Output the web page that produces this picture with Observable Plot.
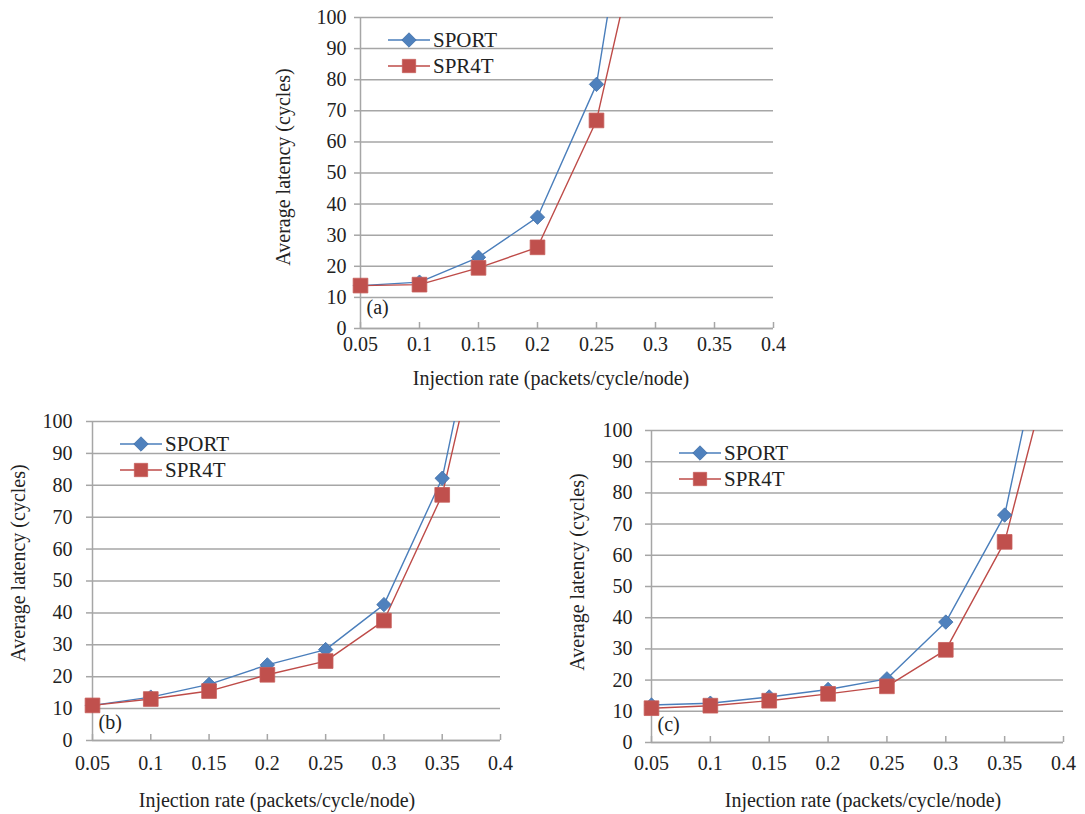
<!DOCTYPE html>
<html><head><meta charset="utf-8">
<script src="https://cdn.jsdelivr.net/npm/d3@7"></script>
<script src="https://cdn.jsdelivr.net/npm/@observablehq/plot@0.6"></script>
<style>
body{margin:0;background:#fff;}
#root{position:relative;width:1085px;height:814px;color:#222;overflow:hidden;}
.p{position:absolute;}
.t{position:absolute;font-size:20px;white-space:nowrap;line-height:1;transform:translate(-50%,-50%);}
.ty{transform:translate(-50%,-50%) rotate(-90deg);}
</style></head><body><div id="root"></div>
<script>
// ---- data ----
const rates = [0.05, 0.1, 0.15, 0.2, 0.25, 0.3, 0.35, 0.4];
const xTicks = [0.05, 0.1, 0.15, 0.2, 0.25, 0.3, 0.35, 0.4];
const yTicks = [0, 10, 20, 30, 40, 50, 60, 70, 80, 90, 100];
const seriesNames = ["SPORT", "SPR4T"];
const panelTags = ["(a)", "(b)", "(c)"];
const xTitle = "Injection rate (packets/cycle/node)";
const yTitle = "Average latency (cycles)";
// last value of each series lies above 100 (line leaves the chart)
const aSPORT = [13.8, 14.9, 22.9, 35.8, 78.5, 196];
const aSPR4T = [13.8, 14.1, 19.5, 26.1, 66.9, 150];
const bSPORT = [11, 13.6, 17.6, 23.7, 28.5, 42.6, 82.2, 169];
const bSPR4T = [11, 13, 15.5, 20.6, 24.9, 37.6, 77, 156];
const cSPORT = [12, 12.6, 14.6, 17, 20.4, 38.6, 72.9, 161];
const cSPR4T = [11, 11.8, 13.4, 15.6, 18, 29.7, 64.3, 137];

const FONT = `"Liberation Serif", Tinos, "Times New Roman", Times`;
const colors = {SPORT: "#4A7EBB", SPR4T: "#BE4B48"};
const fills = {SPORT: "#4F81BD", SPR4T: "#C0504D"};
const grid = "#a6a6a6";

const panels = [
  {tag: panelTags[0], values: [aSPORT, aSPR4T], left: 270, top: 0, width: 520, height: 390,
   ml: 90, mr: 17, mt: 17, mb: 62, ypad: 8, xpad: 8, tagDy: -15,
   xt: [551, 378], yt: [283, 167]},
  {tag: panelTags[1], values: [bSPORT, bSPR4T], left: 0, top: 405, width: 520, height: 409,
   ml: 92, mr: 20, mt: 16, mb: 74, ypad: 14, xpad: 15, tagDy: -12,
   xt: [277, 800], yt: [18, 563]},
  {tag: panelTags[2], values: [cSPORT, cSPR4T], left: 560, top: 415, width: 525, height: 399,
   ml: 91, mr: 22, mt: 15, mb: 72, ypad: 13, xpad: 13, tagDy: -12,
   xt: [863, 800], yt: [577, 572]}
];

const root = document.getElementById("root");
root.style.fontFamily = FONT;

for (const cfg of panels) {
  const data = [];
  seriesNames.forEach((s, si) => cfg.values[si].forEach((v, i) => data.push({series: s, x: rates[i], y: v})));
  const inChart = data.filter(d => d.y <= 100);
  const fh = cfg.height - cfg.mt - cfg.mb;
  const plot = Plot.plot({
    width: cfg.width, height: cfg.height,
    marginLeft: cfg.ml, marginRight: cfg.mr, marginTop: cfg.mt, marginBottom: cfg.mb,
    style: {fontFamily: FONT, fontSize: "20px", color: "#222", background: "transparent", overflow: "visible"},
    x: {domain: [0.05, 0.4]},
    y: {domain: [0, 100]},
    color: {domain: seriesNames, range: seriesNames.map(s => colors[s])},
    marks: [
      Plot.gridY(yTicks, {stroke: grid, strokeOpacity: 1, strokeWidth: 1.5}),
      Plot.axisY(yTicks, {tickSize: 6, tickPadding: cfg.ypad, stroke: grid, strokeWidth: 1.5, label: null, tickFormat: d => String(d)}),
      Plot.ruleX([0.05], {stroke: grid, strokeWidth: 1.5}),
      Plot.ruleY([0], {stroke: grid, strokeWidth: 1.5}),
      Plot.ruleX(xTicks, {x: d => d, insetTop: fh - 6, stroke: grid, strokeWidth: 1.5}),
      Plot.axisX(xTicks, {tickSize: 0, tickPadding: cfg.xpad, label: null, tickFormat: d => String(+d.toFixed(2))}),
      Plot.line(data, {x: "x", y: "y", z: "series", stroke: "series", strokeWidth: 1.4, clip: true}),
      Plot.dot(inChart.filter(d => d.series === "SPORT"), {x: "x", y: "y", symbol: "diamond2", r: 6.5, fill: fills.SPORT, stroke: "#3F6FA8", strokeWidth: 0.8}),
      Plot.dot(inChart.filter(d => d.series === "SPR4T"), {x: "x", y: "y", symbol: "square", r: 8.3, fill: fills.SPR4T, stroke: "#C75E5B", strokeWidth: 0.8}),
      Plot.text([cfg.tag], {text: d => d, frameAnchor: "bottom-left", dx: 6, dy: cfg.tagDy, textAnchor: "start", fontSize: 20, fill: "#222"})
    ]
  });
  plot.classList.add("p");
  plot.style.left = cfg.left + "px";
  plot.style.top = cfg.top + "px";
  plot.style.fontFamily = FONT;
  root.appendChild(plot);

  // legend (inside plot, top-left)
  const lx = cfg.left + cfg.ml + 28, ly = cfg.top + cfg.mt + 23;
  const ns = "http://www.w3.org/2000/svg";
  const leg = document.createElementNS(ns, "svg");
  leg.setAttribute("width", 130); leg.setAttribute("height", 60);
  leg.setAttribute("class", "p");
  leg.style.left = lx + "px"; leg.style.top = (ly - 12) + "px";
  leg.style.fontFamily = FONT;
  seriesNames.forEach((s, i) => {
    const y = 12 + i * 26;
    const ln = document.createElementNS(ns, "line");
    ln.setAttribute("x1", 0); ln.setAttribute("x2", 42); ln.setAttribute("y1", y); ln.setAttribute("y2", y);
    ln.setAttribute("stroke", colors[s]); ln.setAttribute("stroke-width", 1.4);
    leg.appendChild(ln);
    const mk = document.createElementNS(ns, "path");
    const sym = s === "SPORT" ? d3.symbol(d3.symbolDiamond2, Math.PI * 6.5 * 6.5) : d3.symbol(d3.symbolSquare, Math.PI * 7.5 * 7.5);
    mk.setAttribute("d", sym());
    mk.setAttribute("transform", `translate(21,${y})`);
    mk.setAttribute("fill", fills[s]);
    mk.setAttribute("stroke", s === "SPORT" ? "#3F6FA8" : "#C75E5B"); mk.setAttribute("stroke-width", 0.8);
    leg.appendChild(mk);
    const tx = document.createElementNS(ns, "text");
    tx.setAttribute("x", 45); tx.setAttribute("y", y); tx.setAttribute("dy", "0.35em");
    tx.setAttribute("font-size", 21); tx.setAttribute("fill", "#222");
    tx.style.fontFamily = FONT;
    tx.textContent = s;
    leg.appendChild(tx);
  });
  root.appendChild(leg);

  // axis titles
  const xt = document.createElement("div");
  xt.className = "t"; xt.textContent = xTitle;
  xt.style.left = cfg.xt[0] + "px"; xt.style.top = cfg.xt[1] + "px";
  xt.style.fontFamily = FONT;
  root.appendChild(xt);
  const yt = document.createElement("div");
  yt.className = "t ty"; yt.textContent = yTitle;
  yt.style.left = cfg.yt[0] + "px"; yt.style.top = cfg.yt[1] + "px";
  yt.style.fontFamily = FONT;
  root.appendChild(yt);
}
</script></body></html>
